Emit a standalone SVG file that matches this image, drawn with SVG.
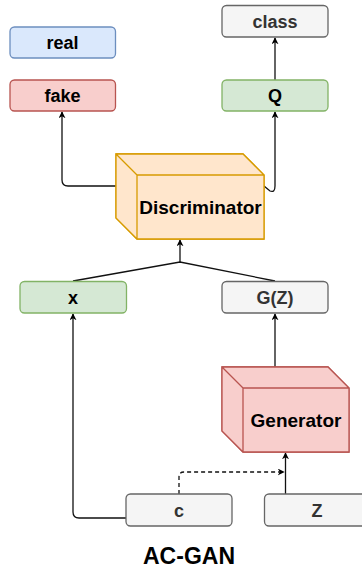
<svg xmlns="http://www.w3.org/2000/svg" width="362" height="571" viewBox="0 0 362 571">
  <defs>
    <marker id="arrow" viewBox="0 0 10 10" refX="9" refY="5" markerWidth="7" markerHeight="7" orient="auto" markerUnits="userSpaceOnUse">
      <path d="M0,0 L10,5 L0,10 L3,5 Z" fill="#000"/>
    </marker>
    <style>
      .lbl { font-family: "Liberation Sans", Arial, sans-serif; font-size: 18px; font-weight: bold; text-anchor: middle; fill: #000; }
      .big { font-size: 19px; }
      .gray-lbl { fill: #333; }
      .title { font-family: "Liberation Sans", Arial, sans-serif; font-size: 23px; font-weight: bold; text-anchor: middle; fill: #000; }
      .box { stroke-width: 1.3; }
      .blue { fill: #dae8fc; stroke: #6c8ebf; }
      .red { fill: #f8cecc; stroke: #b85450; }
      .green { fill: #d5e8d4; stroke: #82b366; }
      .gray { fill: #f5f5f5; stroke: #666666; }
      .orange { fill: #ffe6cc; stroke: #d79b00; }
      .shade-top { fill: #000; fill-opacity: 0.06; }
      .shade-side { fill: #000; fill-opacity: 0.1; }
      .edge { fill: none; stroke: #111; stroke-width: 1.3; }
      .dashed { stroke-dasharray: 4 3; }
    </style>
  </defs>

  <!-- connectors -->
  <g id="connectors">
    <path class="edge" d="M116,186 L68,186 Q62,186 62,180 L62,112" marker-end="url(#arrow)"/>
    <path class="edge" d="M264,186 L270,191 Q275,193 275,186 L275,112" marker-end="url(#arrow)"/>
    <path class="edge" d="M275,80 L275,38" marker-end="url(#arrow)"/>
    <path class="edge" d="M73,281 L180,262 L275,281"/>
    <path class="edge" d="M180,262 L180,240" marker-end="url(#arrow)"/>
    <path class="edge" d="M275,367 L275,314" marker-end="url(#arrow)"/>
    <path class="edge" d="M126,518 L79,518 Q73,518 73,512 L73,314" marker-end="url(#arrow)"/>
    <path class="edge" d="M285.5,494 L285.5,453" marker-end="url(#arrow)"/>
    <path class="edge dashed" d="M179,494 L179,477 Q179,472 184,472 L284,472" marker-end="url(#arrow)"/>
  </g>

  <g id="real">
    <rect class="box blue" x="10" y="27" width="105.5" height="31" rx="4.5"/>
    <text class="lbl" x="62.5" y="49">real</text>
  </g>

  <g id="fake">
    <rect class="box red" x="10" y="80" width="105.5" height="31" rx="4.5"/>
    <text class="lbl" x="62.5" y="102">fake</text>
  </g>

  <g id="class">
    <rect class="box gray" x="222" y="5.5" width="106" height="31.5" rx="4.5"/>
    <text class="lbl gray-lbl" x="275" y="27.5">class</text>
  </g>

  <g id="q">
    <rect class="box green" x="222" y="80" width="106" height="31" rx="4.5"/>
    <text class="lbl" x="275" y="102">Q</text>
  </g>

  <g id="discriminator">
    <path class="box orange" d="M116,154 L243,154 L264,175 L264,239 L137,239 L116,218 Z"/>
    <path class="shade-top" d="M116,154 L243,154 L264,175 L137,175 Z"/>
    <path class="shade-side" d="M116,154 L137,175 L137,239 L116,218 Z"/>
    <path class="box orange" d="M116,154 L243,154 L264,175 L264,239 L137,239 L116,218 Z M137,239 L137,175 L264,175 M137,175 L116,154" fill="none"/>
    <text class="lbl big" x="200.5" y="214">Discriminator</text>
  </g>

  <g id="x">
    <rect class="box green" x="20" y="281.5" width="106.5" height="31.5" rx="4.5"/>
    <text class="lbl" x="73" y="303.5">x</text>
  </g>

  <g id="gz">
    <rect class="box gray" x="222" y="281.5" width="106" height="31.5" rx="4.5"/>
    <text class="lbl gray-lbl" x="275" y="303.5">G(Z)</text>
  </g>

  <g id="generator">
    <path class="box red" d="M222,367 L328,367 L349,388 L349,452 L243,452 L222,431 Z"/>
    <path class="shade-top" d="M222,367 L328,367 L349,388 L243,388 Z"/>
    <path class="shade-side" d="M222,367 L243,388 L243,452 L222,431 Z"/>
    <path class="box red" d="M222,367 L328,367 L349,388 L349,452 L243,452 L222,431 Z M243,452 L243,388 L349,388 M243,388 L222,367" fill="none"/>
    <text class="lbl big" x="296" y="426.5">Generator</text>
  </g>

  <g id="c">
    <rect class="box gray" x="126" y="494" width="106" height="32" rx="4.5"/>
    <text class="lbl gray-lbl" x="179" y="516.5">c</text>
  </g>

  <g id="z">
    <rect class="box gray" x="264.5" y="494" width="106" height="32" rx="4.5"/>
    <text class="lbl gray-lbl" x="317" y="516.5">Z</text>
  </g>

  <text class="title" x="189" y="564">AC-GAN</text>
</svg>
